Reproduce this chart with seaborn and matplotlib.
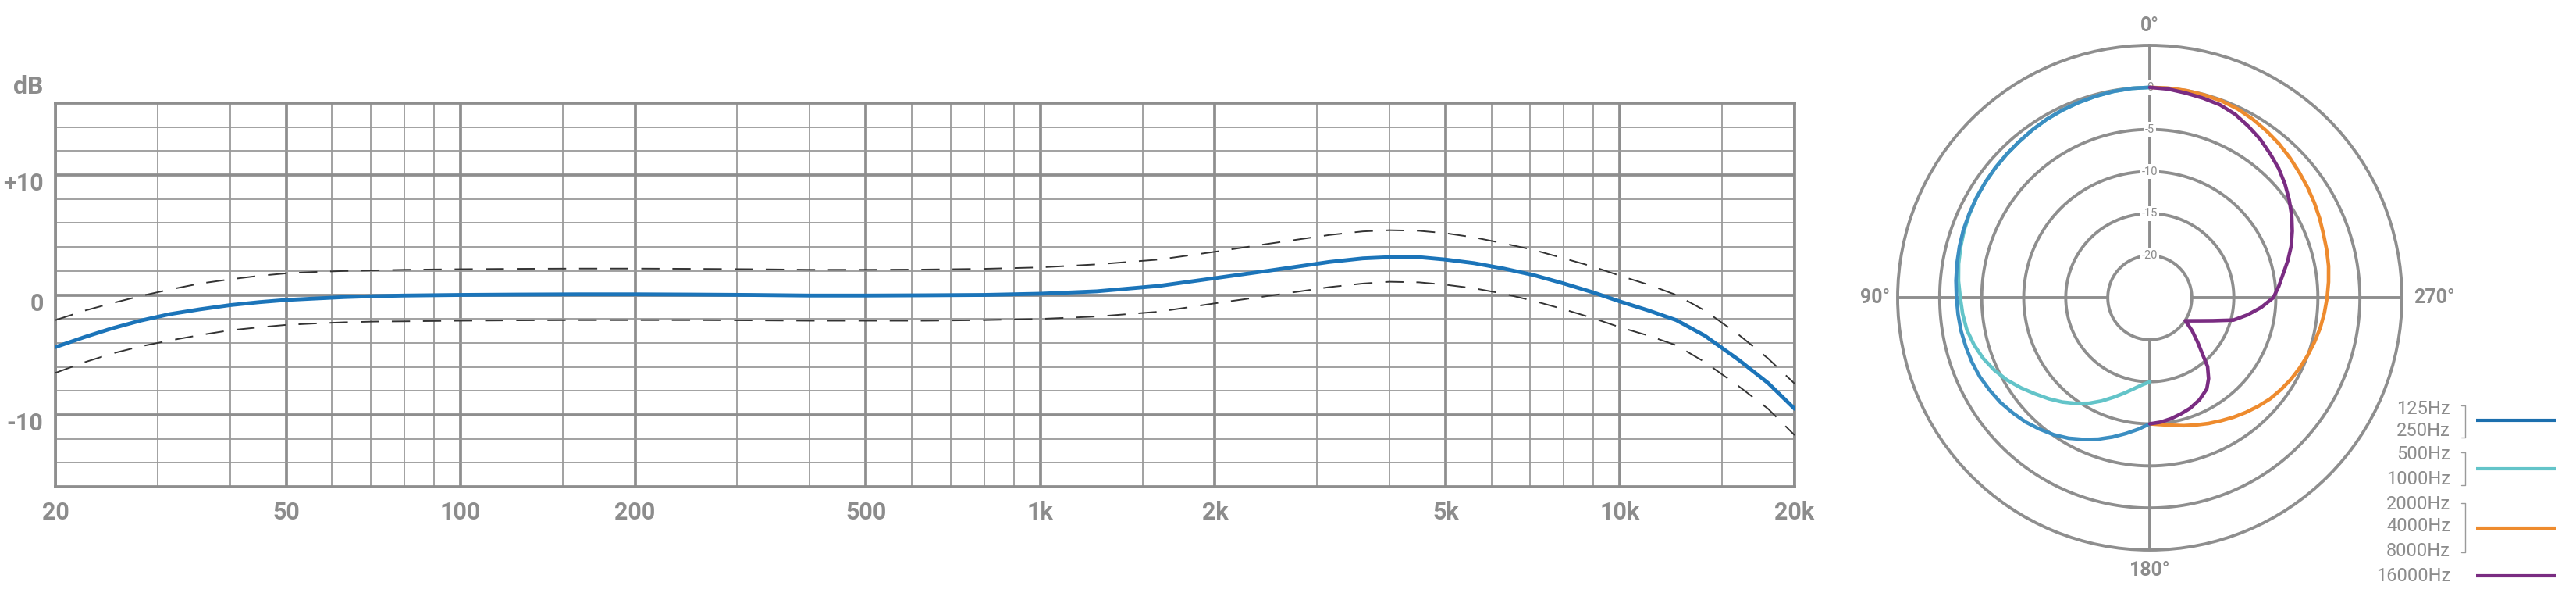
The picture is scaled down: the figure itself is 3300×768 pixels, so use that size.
import numpy as np
import pandas as pd
import matplotlib
matplotlib.use("Agg")
import matplotlib.pyplot as plt
import matplotlib.transforms as mtransforms
from matplotlib.ticker import FixedLocator, NullFormatter
from matplotlib.lines import Line2D
import seaborn as sns

# ---------------- frequency response data ----------------
freq_hz = [20, 22.5, 25, 28, 31.5, 35.5, 40, 45, 50, 56, 63, 71, 80, 100, 125, 160, 200, 250,
           315, 400, 500, 630, 800, 1000, 1250, 1600, 2000, 2500, 3150, 3600, 4000, 4500,
           5000, 5600, 6300, 7100, 8000, 9000, 10000, 11200, 12500, 14000, 16000, 18000, 20000]
response_db = [-4.35, -3.5, -2.8, -2.15, -1.6, -1.2, -0.85, -0.6, -0.42, -0.3, -0.18, -0.1, -0.05,
               0.0, 0.03, 0.05, 0.05, 0.03, 0.0, -0.05, -0.05, -0.03, 0.0, 0.1, 0.3, 0.75, 1.4,
               2.05, 2.75, 3.05, 3.15, 3.15, 2.95, 2.65, 2.2, 1.65, 0.95, 0.2, -0.55, -1.3, -2.1,
               -3.4, -5.4, -7.35, -9.5]
upper_db = [-2.1, -1.3, -0.7, -0.1, 0.45, 0.95, 1.3, 1.6, 1.8, 1.92, 2.0, 2.05, 2.1, 2.15, 2.18,
            2.2, 2.2, 2.18, 2.15, 2.1, 2.1, 2.12, 2.18, 2.3, 2.55, 2.95, 3.6, 4.3, 5.0, 5.3, 5.4,
            5.35, 5.15, 4.8, 4.3, 3.75, 3.05, 2.35, 1.6, 0.85, 0.0, -1.3, -3.3, -5.3, -7.4]
lower_db = [-6.5, -5.6, -4.9, -4.3, -3.8, -3.35, -2.95, -2.7, -2.5, -2.38, -2.28, -2.22, -2.2,
            -2.15, -2.12, -2.1, -2.1, -2.1, -2.12, -2.15, -2.15, -2.15, -2.1, -2.0, -1.8, -1.4,
            -0.7, -0.05, 0.65, 0.95, 1.1, 1.05, 0.85, 0.55, 0.1, -0.5, -1.2, -1.95, -2.7, -3.4,
            -4.2, -5.6, -7.6, -9.5, -11.7]

x_tick_values = [20, 50, 100, 200, 500, 1000, 2000, 5000, 10000, 20000]
x_tick_labels = ["20", "50", "100", "200", "500", "1k", "2k", "5k", "10k", "20k"]
x_minor_values = [30, 40, 60, 70, 80, 90, 150, 300, 400, 600, 700, 800, 900,
                  1500, 3000, 4000, 6000, 7000, 8000, 9000, 15000]
y_tick_values = [-10, 0, 10]
y_tick_labels = ["-10", "0", "+10"]
y_minor_values = [-16, -14, -12, -8, -6, -4, -2, 2, 4, 6, 8, 12, 14, 16]

# ---------------- polar pattern data (degrees on the chart's scale, dB) ----------------
ring_values = [-20, -15, -10, -5, 0]
ring_labels = ["-20", "-15", "-10", "-5", "0"]

# 125 Hz / 250 Hz (left half)
low_deg = [0, 5, 10, 15, 20, 25, 30, 35, 40, 45, 50, 55, 60, 65, 70, 75, 80, 85, 90,
           95, 100, 105, 110, 115, 120, 125, 130, 135, 140, 145, 150, 155, 160, 165, 170, 175, 180]
low_db = [0, -0.03, -0.1, -0.2, -0.3, -0.4, -0.5, -0.65, -0.8, -0.9, -1.0, -1.1, -1.2, -1.3,
          -1.4, -1.55, -1.7, -1.85, -2.0, -2.1, -2.2, -2.35, -2.5, -2.7, -3.0, -3.3, -3.7,
          -4.1, -4.6, -5.1, -5.7, -6.4, -7.1, -7.85, -8.6, -9.3, -10.0]
# 500 Hz / 1000 Hz (left half)
mid_deg = [0, 5, 10, 15, 20, 25, 30, 35, 40, 45, 50, 55, 60, 65, 70, 75, 80, 85, 90,
           95, 100, 105, 110, 115, 120, 125, 130, 135, 140, 145, 150, 155, 160, 165, 170, 175, 180]
mid_db = [0, -0.03, -0.1, -0.2, -0.3, -0.4, -0.5, -0.65, -0.8, -0.9, -1.0, -1.1, -1.2, -1.35,
          -1.5, -1.7, -1.9, -2.15, -2.45, -2.65, -2.9, -3.35, -3.9, -4.6, -5.4, -6.3, -7.2,
          -8.0, -8.8, -9.65, -10.5, -11.45, -12.4, -13.25, -14.0, -14.6, -15.0]
# 2000 / 4000 / 8000 Hz (right half)
high_deg = [360, 355, 350, 345, 340, 335, 330, 325, 320, 315, 310, 305, 300, 295, 290, 285,
            280, 275, 270, 265, 260, 255, 250, 245, 240, 235, 230, 225, 220, 215, 210, 205,
            200, 195, 190, 185, 180]
high_db = [0, 0, 0, -0.05, -0.1, -0.25, -0.5, -0.8, -1.1, -1.45, -1.8, -2.1, -2.4, -2.7, -3.0,
           -3.2, -3.4, -3.65, -3.9, -4.15, -4.4, -4.7, -5.0, -5.3, -5.6, -5.95, -6.3, -6.75,
           -7.2, -7.65, -8.1, -8.5, -8.9, -9.25, -9.6, -9.85, -10.0]
# 16000 Hz (right half)
top_deg = [360, 355, 350, 345, 340, 335, 330, 325, 320, 315, 310, 305, 300, 295, 290, 285,
           280, 275, 270, 265, 260, 255, 250, 245, 240, 237, 232, 227, 220, 216, 212, 206,
           200, 195, 190, 185, 180]
top_db = [0, -0.1, -0.3, -0.45, -0.6, -0.95, -1.5, -2.05, -2.7, -3.3, -4.0, -4.75, -5.5, -6.3,
          -7.1, -8.0, -8.9, -9.6, -10.3, -11.7, -13.2, -14.7, -17.0, -18.5, -19.5, -19.95,
          -18.6, -17.2, -14.3, -13.1, -12.2, -11.5, -11.0, -10.7, -10.4, -10.15, -10.0]

legend_labels = ["125Hz", "250Hz", "500Hz", "1000Hz", "2000Hz", "4000Hz", "8000Hz", "16000Hz"]

# ---------------- styling ----------------
TEXT = "#8c8c8c"
GRID_MAJOR = "#8e8e8e"
GRID_MINOR = "#9a9a9a"
BLUE_FR = "#1b74b9"
BLUE = "#3b8ec2"
BLUE_LEG = "#1c6fae"
CYAN = "#63c4c9"
ORANGE = "#ee8b2e"
PURPLE = "#7a2c82"

sns.set_theme(style="white")
plt.rcParams['font.family'] = ['Roboto', 'DejaVu Sans']

W, H = 3300, 768
fig = plt.figure(figsize=(W / 100, H / 100), dpi=100)
fig.patch.set_facecolor("white")


def fx(px):
    return px / W


def fy(py):
    return 1 - py / H


# ---------------- frequency response ----------------
ax = fig.add_axes([fx(71), fy(623), fx(2299) - fx(71), fy(132) - fy(623)])
ax.set_xscale("log")
df = pd.DataFrame({"freq": freq_hz, "resp": response_db, "up": upper_db, "lo": lower_db})
sns.lineplot(data=df, x="freq", y="up", ax=ax, color="#333333", lw=1.4,
             linestyle=(0, (12, 8.5)), sort=False, zorder=4)
sns.lineplot(data=df, x="freq", y="lo", ax=ax, color="#333333", lw=1.4,
             linestyle=(0, (12, 8.5)), sort=False, zorder=4)
sns.lineplot(data=df, x="freq", y="resp", ax=ax, color=BLUE_FR, lw=3.5, sort=False, zorder=5)
ax.set_xlim(20, 20000)
ax.set_ylim(-16, 16)
ax.set_xlabel("")
ax.set_ylabel("")
ax.xaxis.set_major_locator(FixedLocator(x_tick_values))
ax.set_xticklabels(x_tick_labels)
ax.xaxis.set_minor_locator(FixedLocator(x_minor_values))
ax.xaxis.set_minor_formatter(NullFormatter())
ax.set_yticks(y_tick_values)
ax.set_yticklabels(y_tick_labels)
ax.yaxis.set_minor_locator(FixedLocator(y_minor_values))
ax.set_axisbelow(True)
ax.grid(which="major", color=GRID_MAJOR, lw=2.7)
ax.grid(which="minor", color=GRID_MINOR, lw=1.3)
ax.tick_params(which="both", length=0)
ax.tick_params(axis="x", pad=13, labelsize=22, labelcolor=TEXT)
ax.tick_params(axis="y", pad=11, labelsize=22, labelcolor=TEXT)
for lab in ax.get_xticklabels() + ax.get_yticklabels():
    lab.set_fontweight("bold")
offset = mtransforms.ScaledTranslation(0, -8 / 100, fig.dpi_scale_trans)
for lab in ax.get_yticklabels():
    lab.set_transform(lab.get_transform() + offset)
for sp in ax.spines.values():
    sp.set_color(GRID_MAJOR)
    sp.set_linewidth(2.7)
fig.text(fx(36), fy(111), "dB", ha="center", va="center", fontsize=23,
         color=TEXT, fontweight="bold")

# ---------------- polar pattern ----------------
cx, cy, R = 2754, 381, 323
pax = fig.add_axes([fx(cx - R), fy(cy + R), 2 * R / W, 2 * R / H], projection="polar")
pax.set_theta_zero_location("N")
pax.set_theta_direction(1)
pax.grid(False)
pax.set_xticks([])
pax.set_yticks([])
pax.spines["polar"].set_color(GRID_MAJOR)
pax.spines["polar"].set_linewidth(2.8)

theta_dense = np.linspace(0, 2 * np.pi, 721)
for rv in ring_values:
    pax.plot(theta_dense, np.full_like(theta_dense, rv), color=GRID_MAJOR, lw=2.8, zorder=1)
for deg in [0, 90, 180, 270]:
    t = np.deg2rad(deg)
    pax.plot([t, t], [-20, 5], color=GRID_MAJOR, lw=2.8, zorder=1, solid_capstyle="butt")
for rv, rl in zip(ring_values, ring_labels):
    pax.text(0, rv, rl, ha="center", va="center", fontsize=10.5, color=TEXT, zorder=2,
             bbox=dict(boxstyle="square,pad=0.15", fc="white", ec="none"))

sns.lineplot(x=np.deg2rad(mid_deg), y=mid_db, ax=pax, color=CYAN, lw=3.3, sort=False, zorder=3)
sns.lineplot(x=np.deg2rad(low_deg), y=low_db, ax=pax, color=BLUE, lw=3.3, sort=False, zorder=4)
sns.lineplot(x=np.deg2rad(high_deg), y=high_db, ax=pax, color=ORANGE, lw=3.3, sort=False, zorder=3)
sns.lineplot(x=np.deg2rad(top_deg), y=top_db, ax=pax, color=PURPLE, lw=3.3, sort=False, zorder=4)
pax.set_xlabel("")
pax.set_ylabel("")
pax.set_ylim(-25, 5)

pax.text(0, 7.3, "0°", ha="center", va="center", fontsize=18, color=TEXT,
         fontweight="bold", clip_on=False)
pax.text(np.pi, 7.4, "180°", ha="center", va="center", fontsize=18, color=TEXT,
         fontweight="bold", clip_on=False)
pax.text(np.pi / 2, 5.9, "90°", ha="right", va="center", fontsize=18, color=TEXT,
         fontweight="bold", clip_on=False)
pax.text(3 * np.pi / 2, 6.4, "270°", ha="left", va="center", fontsize=18, color=TEXT,
         fontweight="bold", clip_on=False)

# ---------------- legend ----------------
legend_y = [523, 552, 582, 613, 645, 674, 705, 737]
for lab, yy in zip(legend_labels, legend_y):
    fig.text(fx(3139), fy(yy), lab, ha="right", va="center", fontsize=17, color=TEXT)
for (y0, y1) in [(519, 560), (579, 621), (644, 707)]:
    fig.add_artist(Line2D([fx(3153), fx(3158), fx(3158), fx(3153)],
                          [fy(y0), fy(y0), fy(y1), fy(y1)], color="#9a9a9a", lw=1.0))
for col, yy in [(BLUE_LEG, 538), (CYAN, 600), (ORANGE, 676), (PURPLE, 737)]:
    fig.add_artist(Line2D([fx(3172), fx(3275)], [fy(yy), fy(yy)], color=col, lw=3.0,
                          solid_capstyle="butt"))

fig.savefig("out.png", dpi=100, facecolor="white")
